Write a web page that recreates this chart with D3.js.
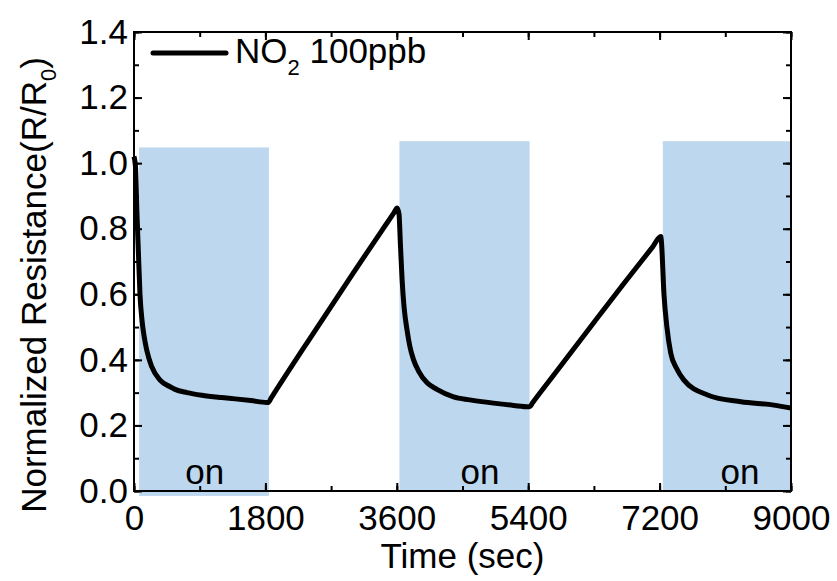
<!DOCTYPE html>
<html>
<head>
<meta charset="utf-8">
<script src="https://cdn.jsdelivr.net/npm/d3@7"></script>
<style>
  body { margin: 0; background: #fff; }
  svg text { font-family: "Liberation Sans", Arial, sans-serif; fill: #000; }
</style>
</head>
<body>
<div class="chart"></div>
<script>
// response curve (time in sec, R/R0)
var timeSec = [0, 20, 40, 59, 82, 110, 140, 174, 243, 357, 494, 562, 727, 929, 1200, 1386, 1600, 1820,
  1840, 1880, 2400, 3000, 3400, 3560, 3604,
  3630, 3650, 3673, 3700, 3741, 3780, 3830, 3900, 4015, 4150, 4377, 4600, 4925, 5200, 5405,
  5420, 5460, 5800, 6211, 6700, 7100, 7216,
  7225, 7260, 7300, 7353, 7430, 7531, 7857, 8314, 8767, 9000];
var ratio = [1.02, 0.99, 0.85, 0.735, 0.60, 0.52, 0.47, 0.43, 0.379, 0.338, 0.318, 0.310, 0.300, 0.292, 0.285, 0.281, 0.276, 0.270,
  0.270, 0.284, 0.462, 0.664, 0.796, 0.848, 0.863,
  0.845, 0.75, 0.643, 0.56, 0.49, 0.44, 0.40, 0.365, 0.33, 0.31, 0.287, 0.278, 0.268, 0.261, 0.257,
  0.257, 0.269, 0.368, 0.488, 0.630, 0.743, 0.776,
  0.76, 0.60, 0.50, 0.42, 0.375, 0.339, 0.293, 0.272, 0.262, 0.253];

// gas "on" periods
var onStart = [70, 3636, 7244];
var onEnd = [1848, 5419, 9000];
var onBottom = [-0.015, 0, 0];
var onTop = [1.048, 1.067, 1.067];
var onLabelTime = [970, 4740, 8300];

var xTicks = [0, 1800, 3600, 5400, 7200, 9000];
var yTicks = [0, 0.2, 0.4, 0.6, 0.8, 1.0, 1.2, 1.4];

var margin = {top: 32, right: 46, bottom: 90, left: 134},
    width = 837 - margin.left - margin.right,
    height = 581 - margin.top - margin.bottom;

var svg = d3.select(".chart")
  .append("svg")
  .attr("width", 837)
  .attr("height", 581);

var g = svg.append("g")
  .attr("transform", "translate(" + margin.left + "," + margin.top + ")");

var x = d3.scaleLinear().domain([0, 9000]).range([0, width]);
var y = d3.scaleLinear().domain([0, 1.4]).range([height, 0]);

// shaded on-periods
g.selectAll(".onBox")
  .data(onStart)
  .enter()
  .append("rect")
  .attr("class", "onBox")
  .attr("x", function(d){ return x(d); })
  .attr("width", function(d, i){ return x(onEnd[i]) - x(d); })
  .attr("y", function(d, i){ return y(onTop[i]); })
  .attr("height", function(d, i){ return y(onBottom[i]) - y(onTop[i]); })
  .style("fill", "#bdd7ee");

g.selectAll(".onLabel")
  .data(onLabelTime)
  .enter()
  .append("text")
  .attr("class", "onLabel")
  .attr("x", function(d){ return x(d); })
  .attr("y", height - 7)
  .attr("text-anchor", "middle")
  .style("font-size", "35px")
  .text("on");

// the curve
var points = timeSec.map(function(t, i){ return [t, ratio[i]]; });
var line = d3.line()
  .x(function(d){ return x(d[0]); })
  .y(function(d){ return y(d[1]); })
  .curve(d3.curveMonotoneX);

g.append("path")
  .datum(points)
  .attr("d", line)
  .style("fill", "none")
  .style("stroke", "#000")
  .style("stroke-width", 5)
  .style("stroke-linejoin", "round");

// axes, ticks pointing inward on all four sides
function styleAxis(sel){
  sel.select(".domain").remove();
  sel.selectAll(".tick line").style("stroke", "#000").style("stroke-width", 2);
  sel.selectAll("text").style("font-size", "35px").style("font-family", "Liberation Sans, Arial, sans-serif");
}

var minorX = d3.range(0, 9001, 900);
var minorY = d3.range(0, 15).map(function(i){ return i / 10; });

var xAxis = g.append("g")
  .attr("transform", "translate(0," + height + ")")
  .call(d3.axisBottom(x).tickValues(xTicks).tickSize(-8).tickPadding(14).tickFormat(d3.format("d")));
styleAxis(xAxis);
xAxis.selectAll("text").attr("dy", "0.71em");

g.append("g").attr("transform", "translate(0," + height + ")")
  .call(d3.axisBottom(x).tickValues(minorX).tickSize(-5).tickFormat(""))
  .call(styleAxis);
g.append("g").call(d3.axisTop(x).tickValues(xTicks).tickSize(-8).tickFormat("")).call(styleAxis);
g.append("g").call(d3.axisTop(x).tickValues(minorX).tickSize(-5).tickFormat("")).call(styleAxis);

var yAxis = g.append("g")
  .call(d3.axisLeft(y).tickValues(yTicks).tickSize(-8).tickPadding(6).tickFormat(d3.format(".1f")));
styleAxis(yAxis);

g.append("g").call(d3.axisLeft(y).tickValues(minorY).tickSize(-5).tickFormat("")).call(styleAxis);
g.append("g").attr("transform", "translate(" + width + ",0)")
  .call(d3.axisRight(y).tickValues(yTicks).tickSize(-8).tickFormat("")).call(styleAxis);
g.append("g").attr("transform", "translate(" + width + ",0)")
  .call(d3.axisRight(y).tickValues(minorY).tickSize(-5).tickFormat("")).call(styleAxis);

// frame
g.append("rect")
  .attr("width", width)
  .attr("height", height)
  .style("fill", "none")
  .style("stroke", "#000")
  .style("stroke-width", 2);

// legend
g.append("line")
  .attr("x1", 19).attr("x2", 92)
  .attr("y1", 21).attr("y2", 21)
  .style("stroke", "#000")
  .style("stroke-width", 5)
  .style("stroke-linecap", "round");

var leg = g.append("text")
  .attr("x", 101)
  .attr("y", 31)
  .style("font-size", "35px");
leg.append("tspan").text("NO");
leg.append("tspan").attr("dy", 12).style("font-size", "22px").text("2");
leg.append("tspan").attr("dy", -12).text(" 100ppb");

// axis titles
svg.append("text")
  .attr("x", margin.left + width / 2)
  .attr("y", 568)
  .attr("text-anchor", "middle")
  .style("font-size", "35px")
  .text("Time (sec)");

var yl = svg.append("text")
  .attr("transform", "translate(46,285) rotate(-90)")
  .attr("text-anchor", "middle")
  .style("font-size", "35px");
yl.append("tspan").text("Normalized Resistance(R/R");
yl.append("tspan").attr("dy", 10).style("font-size", "22px").text("0");
yl.append("tspan").attr("dy", -10).text(")");
</script>
</body>
</html>
